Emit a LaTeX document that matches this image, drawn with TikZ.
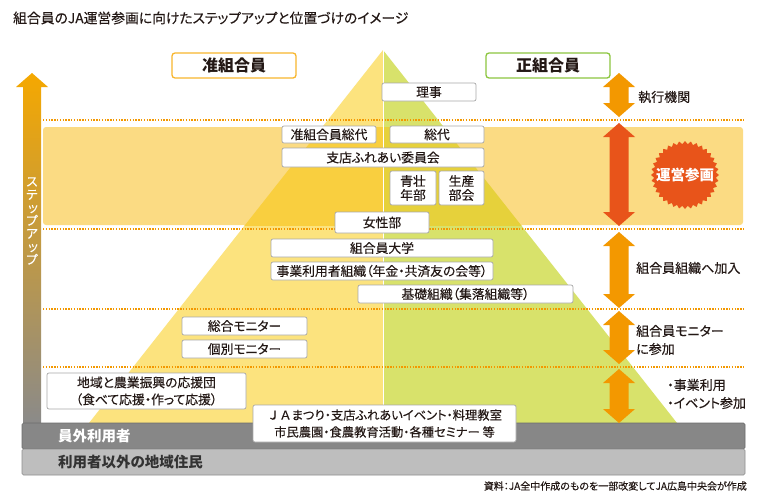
\documentclass[tikz,border=0pt]{standalone}
\usepackage{fontspec}
\setmainfont{Noto Sans CJK JP}[RawFeature=+palt]
\newfontfamily\medfont{Noto Sans CJK JP}[FakeBold=0.25, RawFeature=+palt]
\newfontfamily\medfontnp{Noto Sans CJK JP}[FakeBold=0.25]
\usetikzlibrary{shapes.geometric}
\definecolor{txt}{HTML}{231815}
\definecolor{pyl}{HTML}{FCE37E}
\definecolor{pyr}{HTML}{D8E26B}
\definecolor{pyld}{HTML}{F9CF3F}
\definecolor{pyrd}{HTML}{E6D13B}
\definecolor{band}{HTML}{FBDB83}
\definecolor{orar}{HTML}{F39800}
\definecolor{redor}{HTML}{E8541A}
\definecolor{boxgray}{HTML}{A8A8A8}
\definecolor{gyA}{HTML}{878787}
\definecolor{gyB}{HTML}{BEBEBE}
\definecolor{stepor}{HTML}{F5A800}
\definecolor{stepmid}{HTML}{D8A030}
\definecolor{stepgy}{HTML}{8A8A8A}
\definecolor{hdor}{HTML}{F8B62D}
\definecolor{hdgr}{HTML}{8CC63F}
\newcommand\dblarr[4]{%
 \fill[#4] (#1,#2) -- (#1+16,#2+14) -- (#1+9.5,#2+14) -- (#1+9.5,#3-14) -- (#1+16,#3-14) -- (#1,#3) -- (#1-16,#3-14) -- (#1-9.5,#3-14) -- (#1-9.5,#2+14) -- (#1-16,#2+14) -- cycle;}
\begin{document}
\begin{tikzpicture}[x=1pt,y=-1pt,
  bx/.style={draw=boxgray, fill=white, rounded corners=2pt, line width=0.7pt, inner sep=0pt, font=\medfont\fontsize{12.8}{15}\selectfont, text=txt, align=center},
  hd/.style={fill=white, rounded corners=3pt, line width=1.3pt, minimum width=124pt, minimum height=25pt, inner sep=0pt, font=\fontsize{16}{18}\selectfont\bfseries, text=txt},
  lbl/.style={anchor=west, inner sep=0pt, font=\medfont\fontsize{13}{18}\selectfont, text=txt, align=left},
  dotl/.style={draw=orar, line width=1.4pt, dash pattern=on 1.4pt off 1.4pt}]
\useasboundingbox[fill=white] (0,0) rectangle (760,498);
% title
\node[anchor=west, inner sep=0pt, font=\medfont\fontsize{13.8}{15}\selectfont, text=txt] (title) at (13,18) {組合員のJA運営参画に向けたステップアップと位置づけのイメージ};
% pyramid
\fill[pyl] (383,50) -- (89,423) -- (383,423) -- cycle;
\fill[pyr] (383,50) -- (677,423) -- (383,423) -- cycle;
% band
\fill[band, rounded corners=3pt] (43,127) rectangle (743,225);
\begin{scope}
\clip (43,127) rectangle (743,225);
\fill[pyld] (383,50) -- (89,423) -- (383,423) -- cycle;
\fill[pyrd] (383,50) -- (677,423) -- (383,423) -- cycle;
\end{scope}
\draw[white, line width=0.8pt] (383,50) -- (383,423);
% dotted lines
\foreach \yy in {120,229,309,367} \draw[dotl] (43,\yy) -- (745,\yy);
% left arrow
\shade[top color=stepor, middle color=stepmid, bottom color=stepgy] (32,73) -- (48,87) -- (41,87) -- (41,425) -- (23,425) -- (23,87) -- (16,87) -- cycle;
\node[text=white, align=center, inner sep=0pt, font=\medfont\fontsize{12.5}{13}\selectfont] (step) at (32,221) {ス\\テ\\\hspace*{2pt}ッ\\プ\\ア\\\hspace*{2pt}ッ\\プ};
% gray bars
\draw[fill=gyA, draw=gyA!80!black, rounded corners=1.5pt, line width=0.6pt] (22,423) rectangle (745,449);
\draw[fill=gyB, draw=gyB!75!black, rounded corners=1.5pt, line width=0.6pt] (22,449) rectangle (745,475);
\node[anchor=west, inner sep=0pt, font=\fontsize{14.5}{16}\selectfont\bfseries, text=white] (ingai) at (58,436) {員外利用者};
\node[anchor=west, inner sep=0pt, font=\fontsize{14.5}{16}\selectfont\bfseries, text=black!80] (jumin) at (58,462) {利用者以外の地域住民};
% headers
\node[hd, draw=hdor] (jun) at (234,65.5) {准組合員};
\node[hd, draw=hdgr] (sei) at (548,65.5) {正組合員};
% boxes
\node[bx, minimum width=94pt, minimum height=18pt] (riji) at (429,92) {理事};
\node[bx, minimum width=94pt, minimum height=17pt] (junsodai) at (329,134.5) {准組合員総代};
\node[bx, minimum width=94pt, minimum height=17pt] (sodai) at (437,134.5) {総代};
\node[bx, minimum width=202pt, minimum height=19pt] (shiten) at (383,157.5) {支店ふれあい委員会};
\node[bx, minimum width=46pt, minimum height=34pt, font=\medfont\fontsize{12.8}{14}\selectfont] (seiso) at (413,188) {青壮\\年部};
\node[bx, minimum width=45pt, minimum height=34pt, font=\medfont\fontsize{12.8}{14}\selectfont] (seisan) at (461.5,188) {生産\\部会};
\node[bx, minimum width=94pt, minimum height=21pt] (josei) at (382,222.5) {女性部};
\node[bx, minimum width=222pt, minimum height=18pt] (daigaku) at (382,248) {組合員大学};
\node[bx, minimum width=222pt, minimum height=18pt] (jigyo) at (382,271) {事業利用者組織（年金・共済友の会等）};
\node[bx, minimum width=215pt, minimum height=18pt] (kiso) at (465.5,294) {基礎組織（集落組織等）};
\node[bx, minimum width=125pt, minimum height=18pt] (sogo) at (244.5,326) {総合モニター};
\node[bx, minimum width=125pt, minimum height=18pt] (kobetsu) at (244.5,349) {個別モニター};
\node[bx, minimum width=199pt, minimum height=36pt, font=\medfont\fontsize{12.8}{17}\selectfont] (oen) at (146.5,391) {地域と農業振興の応援団\\（食べて応援・作って応援）};
\node[bx, minimum width=263pt, minimum height=37pt, font=\medfont\fontsize{12.3}{17}\selectfont] (matsuri) at (384.5,423.5) {{\medfontnp ＪＡ}まつり・支店ふれあいイベント・料理教室\\市民農園・食農教育活動・各種セミナー 等};
% right arrows
\dblarr{619}{73}{117}{orar}
\dblarr{619}{123}{226}{redor}
\dblarr{619}{232}{308}{orar}
\dblarr{619}{311}{364}{orar}
\dblarr{619}{369}{423}{orar}
% right labels
\node[lbl] (shikko) at (638,97) {執行機関};
\node[lbl] (kanyu) at (636,268) {組合員組織へ加入};
\node[lbl] (monitor) at (636,340) {組合員モニター\\に参加};
\node[lbl] (riyo) at (667,394) {・事業利用\\・イベント参加};
% starburst
\node[star, star points=36, star point ratio=1.1, minimum size=68pt, fill=redor, inner sep=0pt] (burst) at (685,175) {};
\node[text=white, inner sep=0pt, font=\fontsize{14.5}{16}\selectfont\bfseries] (unei) at (burst.center) {運営参画};
% source
\node[anchor=east, inner sep=0pt, font=\medfont\fontsize{10}{11}\selectfont, text=txt] (src) at (747,486) {資料：JA全中作成のものを一部改変してJA広島中央会が作成};
\end{tikzpicture}
\end{document}
